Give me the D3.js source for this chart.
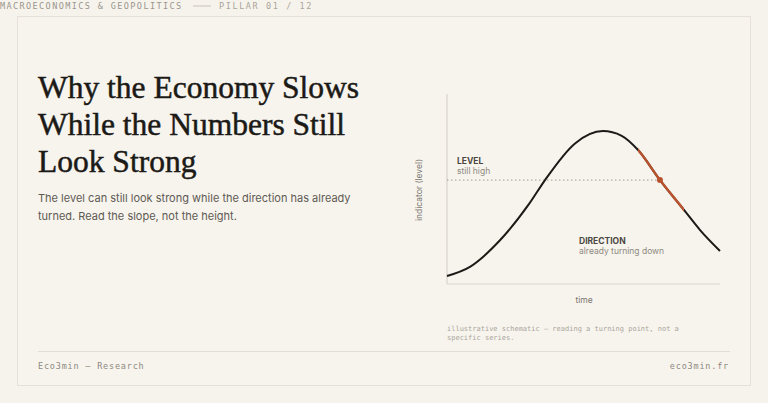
<!DOCTYPE html>
<html><head><meta charset="utf-8">
<script src="https://cdn.jsdelivr.net/npm/d3@7"></script>
<style>
body{margin:0;background:#f6f3ec;}
</style></head>
<body><div id="chart"></div>
<script>
// schematic cycle (time 0-10, level 0-100)
var times = [0, 0.84, 1.94, 3.0, 3.59, 4.69, 5.71, 6.4, 7.0, 7.8, 8.68, 9.27, 10]
var levels = [4.2, 9, 23, 42, 54.7, 74, 80.5, 78, 70.5, 54.7, 39, 28.4, 17.4]
var slopeRange = [7.0, 8.68]
var markTime = 7.8, markLevel = 54.7
var titleLines = ["Why the Economy Slows", "While the Numbers Still", "Look Strong"]
var subLines = ["The level can still look strong while the direction has already", "turned. Read the slope, not the height."]

var width = 768, height = 403
var mono = "'DejaVu Sans Mono', monospace"
var sans = "Inter, 'Noto Sans', sans-serif"

var svg = d3.select("#chart").append("svg")
  .attr("width", width).attr("height", height)
  .style("background", "#f6f3ec")

// header
svg.append("text").attr("x", 0).attr("y", 9)
  .style("font-family", mono).style("font-size", "8.5px").style("letter-spacing", "1.4px")
  .attr("fill", "#9a958c").text("MACROECONOMICS & GEOPOLITICS")
svg.append("line").attr("x1", 193).attr("x2", 211).attr("y1", 6).attr("y2", 6)
  .attr("stroke", "#c9c3b8")
svg.append("text").attr("x", 219).attr("y", 9)
  .style("font-family", mono).style("font-size", "8.5px").style("letter-spacing", "1.6px")
  .attr("fill", "#aaa59b").text("PILLAR 01 / 12")

// card
svg.append("rect").attr("x", 17.5).attr("y", 16.5).attr("width", 733).attr("height", 369)
  .attr("fill", "#f7f4ee").attr("stroke", "#e6e1d7")

svg.append("g").selectAll("text").data(titleLines).enter().append("text")
  .attr("x", 38).attr("y", (d, i) => 98 + i * 37)
  .style("font-family", "'Liberation Serif', 'DejaVu Serif', serif").style("font-size", "31.5px")
  .attr("fill", "#1c1a17").attr("stroke", "#1c1a17").attr("stroke-width", 0.5)
  .text(d => d)

svg.append("g").selectAll("text").data(subLines).enter().append("text")
  .attr("x", 38).attr("y", (d, i) => 202 + i * 18)
  .style("font-family", sans).style("font-size", "11px")
  .attr("fill", "#5e5a53").text(d => d)

// footer
svg.append("line").attr("x1", 38).attr("x2", 730).attr("y1", 351.5).attr("y2", 351.5)
  .attr("stroke", "#e3ded4")
svg.append("text").attr("x", 38).attr("y", 369)
  .style("font-family", mono).style("font-size", "8.5px").style("letter-spacing", "0.8px")
  .attr("fill", "#8e897f").text("Eco3min — Research")
svg.append("text").attr("x", 729).attr("y", 369).attr("text-anchor", "end")
  .style("font-family", mono).style("font-size", "8.5px").style("letter-spacing", "0.8px")
  .attr("fill", "#8e897f").text("eco3min.fr")

// chart
var xScale = d3.scaleLinear().domain([0, 10]).range([447, 720])
var yScale = d3.scaleLinear().domain([0, 100]).range([284, 94])

svg.append("line").attr("x1", xScale(0)).attr("x2", xScale(0)).attr("y1", yScale(100)).attr("y2", yScale(0))
  .attr("stroke", "#d8d3c9").attr("stroke-width", 1.2)
svg.append("line").attr("x1", xScale(0)).attr("x2", xScale(10)).attr("y1", yScale(0)).attr("y2", yScale(0))
  .attr("stroke", "#d8d3c9").attr("stroke-width", 1.2)

svg.append("line").attr("x1", xScale(0)).attr("x2", xScale(markTime))
  .attr("y1", yScale(markLevel)).attr("y2", yScale(markLevel))
  .attr("stroke", "#9e9a92").attr("stroke-dasharray", "1.5,2.5")

var pts = times.map((t, i) => [t, levels[i]])
var line = d3.line().x(d => xScale(d[0])).y(d => yScale(d[1])).curve(d3.curveMonotoneX)
svg.append("path").attr("d", line(pts)).attr("fill", "none")
  .attr("stroke", "#1c1a17").attr("stroke-width", 2)

svg.append("clipPath").attr("id", "slope").append("rect")
  .attr("x", xScale(slopeRange[0])).attr("width", xScale(slopeRange[1]) - xScale(slopeRange[0]))
  .attr("y", 0).attr("height", height)
svg.append("path").attr("d", line(pts)).attr("fill", "none").attr("clip-path", "url(#slope)")
  .attr("stroke", "#b8532e").attr("stroke-width", 2.4)
svg.append("circle").attr("cx", xScale(markTime)).attr("cy", yScale(markLevel)).attr("r", 3)
  .attr("fill", "#b8532e")

svg.append("text").attr("x", 457).attr("y", 164)
  .style("font-family", sans).style("font-size", "8.5px").style("font-weight", 700)
  .attr("fill", "#4a463f").text("LEVEL")
svg.append("text").attr("x", 457).attr("y", 174)
  .style("font-family", sans).style("font-size", "8.5px").attr("fill", "#8e897f").text("still high")
svg.append("text").attr("x", 579).attr("y", 244)
  .style("font-family", sans).style("font-size", "8.5px").style("font-weight", 700)
  .attr("fill", "#4a463f").text("DIRECTION")
svg.append("text").attr("x", 579).attr("y", 254)
  .style("font-family", sans).style("font-size", "8.5px").attr("fill", "#8e897f").text("already turning down")

svg.append("text").attr("x", 584).attr("y", 303).attr("text-anchor", "middle")
  .style("font-family", sans).style("font-size", "8.5px").attr("fill", "#7a766e").text("time")
svg.append("text").attr("transform", "translate(422,190) rotate(-90)").attr("text-anchor", "middle")
  .style("font-family", sans).style("font-size", "8.5px").attr("fill", "#7a766e").text("indicator (level)")

svg.append("text").attr("x", 447).attr("y", 331)
  .style("font-family", mono).style("font-size", "7px").attr("fill", "#aaa59b")
  .text("illustrative schematic — reading a turning point, not a")
svg.append("text").attr("x", 447).attr("y", 340)
  .style("font-family", mono).style("font-size", "7px").attr("fill", "#aaa59b")
  .text("specific series.")
</script></body></html>
